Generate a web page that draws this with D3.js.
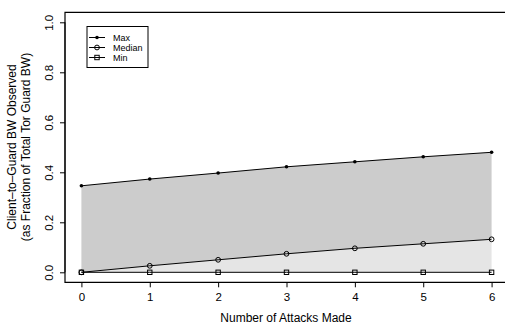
<!DOCTYPE html>
<html>
<head>
<meta charset="utf-8">
<script src="https://cdn.jsdelivr.net/npm/d3@7"></script>
<style>
  html, body { margin: 0; padding: 0; background: #fff; }
  svg { display: block; font-family: "Liberation Sans", Arial, Helvetica, sans-serif; }
</style>
</head>
<body>
<svg id="chart" width="505" height="325"></svg>
<script>
const attacks = [0, 1, 2, 3, 4, 5, 6];
const maxVals = [0.346, 0.373, 0.397, 0.422, 0.442, 0.462, 0.480];
const medianVals = [0.000, 0.026, 0.050, 0.074, 0.096, 0.114, 0.132];
const minVals = [0, 0, 0, 0, 0, 0, 0];
const xTicks = [0, 1, 2, 3, 4, 5, 6];
const yTicks = [0.0, 0.2, 0.4, 0.6, 0.8, 1.0];
const legendLabels = ["Max", "Median", "Min"];
const xTitle = "Number of Attacks Made";
const yTitle1 = "Client\u2013to\u2013Guard BW Observed";
const yTitle2 = "(as Fraction of Total Tor Guard BW)";

const svg = d3.select("#chart");
const x = d3.scaleLinear().domain([-0.24, 6.24]).range([65, 508]);
const y = d3.scaleLinear().domain([-0.04, 1.04]).range([282.3, 12.3]);

const data = attacks.map((a, i) => ({a, max: maxVals[i], med: medianVals[i], min: minVals[i]}));

// Areas
svg.append("path").datum(data)
  .attr("fill", "#cccccc")
  .attr("d", d3.area().x(d => x(d.a)).y0(d => y(d.med)).y1(d => y(d.max)));
svg.append("path").datum(data)
  .attr("fill", "#e5e5e5")
  .attr("d", d3.area().x(d => x(d.a)).y0(d => y(d.min)).y1(d => y(d.med)));

// Lines
const keys = ["max", "med", "min"];
keys.forEach(k => {
  svg.append("path").datum(data)
    .attr("fill", "none").attr("stroke", "#000").attr("stroke-width", 1)
    .attr("d", d3.line().x(d => x(d.a)).y(d => y(d[k])));
});

function drawMarker(g, type, cx, cy) {
  if (type === "max") {
    g.append("circle").attr("cx", cx).attr("cy", cy).attr("r", 1.8).attr("fill", "#000");
  } else if (type === "med") {
    g.append("circle").attr("cx", cx).attr("cy", cy).attr("r", 2.4)
      .attr("fill", "none").attr("stroke", "#000").attr("stroke-width", 1);
  } else {
    g.append("rect").attr("x", cx - 2.2).attr("y", cy - 2.2).attr("width", 4.4).attr("height", 4.4)
      .attr("fill", "none").attr("stroke", "#000").attr("stroke-width", 1);
  }
}
const mg = svg.append("g");
keys.forEach(k => data.forEach(d => drawMarker(mg, k, x(d.a), y(d[k]))));

// Box (left, top, bottom; right edge beyond view)
svg.append("path")
  .attr("d", `M${x.range()[1] + 5},${y.range()[1]}H${x.range()[0]}V${y.range()[0]}H${x.range()[1] + 5}`)
  .attr("fill", "none").attr("stroke", "#000").attr("stroke-width", 1.2);

// X axis
const xAxis = svg.append("g").attr("transform", `translate(0,${y.range()[0]})`)
  .call(d3.axisBottom(x).tickValues(xTicks).tickSize(5).tickPadding(4).tickFormat(d3.format("d")));
xAxis.select(".domain").remove();
xAxis.selectAll("line").attr("stroke", "#000");
xAxis.selectAll("text").attr("font-size", 11.5).attr("font-family", "Liberation Sans, Arial, sans-serif").attr("fill", "#000")
  .attr("y", 19).attr("dy", 0);

// Y axis
const yAxis = svg.append("g").attr("transform", `translate(${x.range()[0]},0)`)
  .call(d3.axisLeft(y).tickValues(yTicks).tickSize(5).tickFormat(d3.format(".1f")));
yAxis.select(".domain").attr("d", `M0,${y(0)}V${y(1)}`).attr("stroke", "#000");
yAxis.selectAll("line").attr("stroke", "#000");
yAxis.selectAll("text").attr("font-size", 11.5).attr("font-family", "Liberation Sans, Arial, sans-serif").attr("fill", "#000")
  .attr("transform", "rotate(-90)").attr("x", 0).attr("y", -12).attr("dy", 0).attr("text-anchor", "middle");

// Axis titles
svg.append("text").attr("x", 286).attr("y", 322).attr("text-anchor", "middle")
  .attr("font-size", 12).text(xTitle);
svg.append("text").attr("transform", `translate(15.5,147) rotate(-90)`).attr("text-anchor", "middle")
  .attr("font-size", 12).text(yTitle1);
svg.append("text").attr("transform", `translate(29.5,147) rotate(-90)`).attr("text-anchor", "middle")
  .attr("font-size", 12).text(yTitle2);

// Legend
const lg = svg.append("g");
lg.append("rect").attr("x", 87).attr("y", 26.5).attr("width", 61).attr("height", 41)
  .attr("fill", "#fff").attr("stroke", "#000").attr("stroke-width", 1);
legendLabels.forEach((lab, i) => {
  const yy = 37.5 + i * 10;
  lg.append("line").attr("x1", 89).attr("x2", 105).attr("y1", yy).attr("y2", yy)
    .attr("stroke", "#000").attr("stroke-width", 1);
  drawMarker(lg, keys[i], 97, yy);
  lg.append("text").attr("x", 113).attr("y", yy + 3.2).attr("font-size", 9).text(lab);
});
</script>
</body>
</html>
